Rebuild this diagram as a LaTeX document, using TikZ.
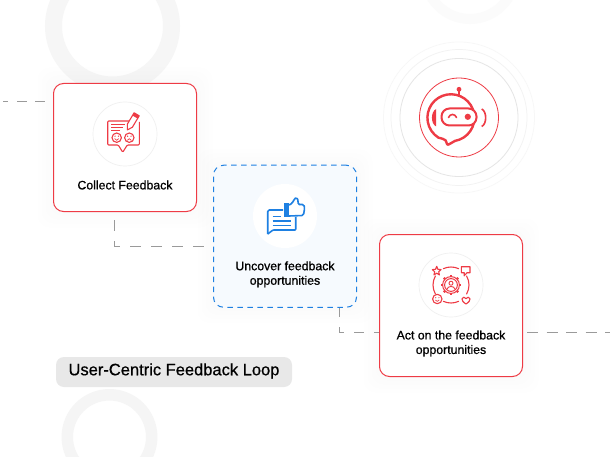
\documentclass[tikz,border=0pt]{standalone}
\usepackage{fontspec}
\setmainfont{Liberation Sans}[FakeBold=0.7]
\usetikzlibrary{calc}
\definecolor{cred}{HTML}{EE3B45}
\definecolor{cblue}{HTML}{1E80E2}
\definecolor{cdash}{HTML}{9A9A9A}
\tikzset{
  x=1pt,y=1pt,
  cardbox/.style={rectangle,rounded corners=10pt,minimum width=143pt,minimum height=#1,inner sep=0pt,line width=1pt},
  redcard/.style={cardbox=128pt,draw=cred,fill=white},
  bluecard/.style={cardbox=142pt,draw=cblue,fill=cblue!4,dash pattern=on 5.5pt off 4.5pt},
  iconring/.style={circle,minimum size=64pt,inner sep=0pt,fill=white},
  label/.style={font=\fontsize{12.3}{14.5}\selectfont,align=center,text=black,inner sep=0pt},
  conn/.style={draw=cdash,line width=1pt},
  ri/.style={draw=cred,line width=1.1pt,line join=round},
  bi/.style={draw=cblue,line width=1.6pt,line join=round},
}
\begin{document}
\begin{tikzpicture}[yscale=-1]
\useasboundingbox (0,0) rectangle (610,457);
\fill[white] (0,0) rectangle (610,457);
% background rings
\begin{scope}
\clip (0,0) rectangle (610,457);
\draw[black!3.5,line width=17pt] (112.5,26) circle[radius=59];
\foreach \y in {0,6,...,90}{\fill[white,opacity=.03] (40,\y) rectangle (185,100);}
\draw[black!4,line width=11.5pt] (109.5,437) circle[radius=42.2];
\foreach \y in {395,400,...,455}{\fill[white,opacity=.09] (55,\y) rectangle (165,457);}
\draw[black!1.6,line width=10pt] (470,-26) circle[radius=45];
\foreach \x in {485,480,...,420}{\fill[white,opacity=.12] (415,0) rectangle (\x,30);}
\end{scope}
% soft glow
\foreach \g in {4,8,12,16}{
  \fill[black,opacity=.004,rounded corners=12pt] (53.5-\g,83.5-\g) rectangle (196.5+\g,211.5+\g);
  \fill[black,opacity=.004,rounded corners=12pt] (213.5-\g,165.5-\g) rectangle (356.5+\g,307+\g);
  \fill[black,opacity=.004,rounded corners=12pt] (379.5-\g,234.5-\g) rectangle (522.5+\g,376.5+\g);
}
% connector end points
\coordinate (leftend) at (3,102);
\coordinate (c1in) at (53.5,102);
\coordinate (c1out) at (114,220);
\coordinate (c2in) at (213.5,246);
\coordinate (c2out) at (339.5,307);
\coordinate (c3in) at (379.5,332.5);
\coordinate (c3out) at (527,332.5);
\coordinate (rightend) at (610,332.5);
\draw[conn,dash pattern=on 5pt off 9pt on 10pt off 8pt on 10pt off 100pt] (leftend) -- (c1in);
\draw[conn,dash pattern=on 11pt off 10pt] (c1out) |- (c2in);
\draw[conn,dash pattern=on 10.2pt off 9.8pt] (c2out) |- (c3in);
\draw[conn,dash pattern=on 11pt off 8.5pt] (c3out) -- (rightend);
% cards
\node[redcard] (card1) at (125,147.5) {};
\node[bluecard] (card2) at (285,236.25) {};
\node[redcard,minimum height=142pt] (card3) at (451,305.5) {};
\node[iconring,draw=black!6,line width=.7pt] (ring1) at (125,134) {};
\node[iconring] (ring2) at (285,216) {};
\node[iconring,draw=black!6,line width=.7pt] (ring3) at (451,285) {};
\node[label] (t1) at (125,185) {Collect Feedback};
\node[label] (t2) at (285,274.3) {Uncover feedback\\opportunities};
\node[label] (t3) at (451,343.5) {Act on the feedback\\opportunities};
\node[rectangle,rounded corners=8pt,fill=black!9,minimum width=236pt,minimum height=30pt,inner sep=0pt] (pill) at (174,372) {};
\node[label,font=\fontsize{16.5}{18}\selectfont] (title) at (174,371) {User-Centric Feedback Loop};
% feedback icon
\draw[ri,rounded corners=1pt] (133,121) -- (107.7,121) -- (107.7,145) -- (118.3,145) -- (122.7,152.3) -- (127.3,145) -- (139.3,145) -- (139.3,122);
\foreach \yy/\xx in {124.5/125,127.7/123,130.9/120}{\draw[ri] (111,\yy) -- (\xx,\yy);}
\draw[ri] (116.7,137.7) circle[radius=4.7];
\draw[ri] (129.3,137.7) circle[radius=4.7];
\fill[cred] (115,136.2) circle[radius=.7] (118.4,136.2) circle[radius=.7] (127.6,136.2) circle[radius=.7] (131,136.2) circle[radius=.7];
\draw[cred,line width=.7pt] (114.6,138.6) .. controls (115.6,140.8) and (117.8,140.8) .. (118.8,138.6);
\draw[cred,line width=.7pt] (127.2,140.4) .. controls (128.2,138.2) and (130.4,138.2) .. (131.4,140.4);
\filldraw[ri,fill=white] (127.3,130) -- (127.3,124.2) -- (134.1,112.8) -- (136.6,114.3) -- (139.2,115.8) -- (132.4,127.2) -- cycle;
\draw[ri] (133,115.2) -- (138,118.1);
\fill[cred] (134.1,112.8) -- (136.6,114.3) -- (139.2,115.8) -- (138,118.1) -- (133,115.2) -- cycle;
% thumbs-up icon
\draw[bi,rounded corners=1.5pt] (283,210) -- (267.7,210) -- (267.7,234);
\draw[bi,rounded corners=.8pt] (267.7,234) -- (273,230) -- (295.7,230) -- (295.7,217);
\foreach \yy/\xx in {216.7/281,221/291,225.3/291}{\draw[bi,line width=1.2pt] (272.7,\yy) -- (\xx,\yy);}
\fill[cblue] (284.3,202.7) rectangle (289,216.5);
\draw[bi,rounded corners=1.6pt,fill=white] (289,205) -- (292.3,203.3) -- (294.3,199) -- (296.5,197.2) -- (298.5,201) -- (297.7,204.5) -- (304,204.5) -- (304.6,208.5) -- (303.4,215.5) -- (289,216);
% cycle icon
\foreach \a/\b in {-115/-65,-30/30,65/115,150/210}{\draw[ri,line cap=round] ($(451,285)+(\a:18)$) arc[start angle=\a,end angle=\b,radius=18];}
\draw[ri,line width=1pt] (451,285) circle[radius=6.4];
\foreach \a in {0,45,...,315}{\draw[cred,line width=2.2pt] ($(451,285)+(\a:8)$) -- ($(451,285)+(\a:10.2)$);}
\draw[ri,line width=1pt] (451,285) circle[radius=8.4];
\draw[ri,line width=.9pt] (451,283.2) circle[radius=2];
\draw[ri,line width=.9pt] (447,289.3) .. controls (447.5,285.5) and (454.5,285.5) .. (455,289.3);
\draw[ri] (436.7,266.3) -- (437.9,269.3) -- (441.1,269.6) -- (438.7,271.7) -- (439.4,274.9) -- (436.7,273.2) -- (434,274.9) -- (434.7,271.7) -- (432.3,269.6) -- (435.5,269.3) -- cycle;
\draw[ri] (461.3,266.7) -- (470,266.7) -- (470,272.7) -- (467,272.7) -- (464.2,275.8) -- (464.2,272.7) -- (461.3,272.7) -- cycle;
\draw[ri] (437.3,299) circle[radius=4.7];
\fill[cred] (435.7,297.7) circle[radius=.6] (438.9,297.7) circle[radius=.6];
\draw[cred,line width=.7pt] (435.4,300) .. controls (436.2,301.8) and (438.4,301.8) .. (439.2,300);
\draw[ri] (466,304) .. controls (463,302) and (461.8,300.5) .. (462,298.8) .. controls (462.3,296.8) and (465,296.6) .. (466,298.6) .. controls (467,296.6) and (469.7,296.8) .. (470,298.8) .. controls (470.2,300.5) and (469,302) .. (466,304) -- cycle;
% robot circles
\node[circle,draw=black!3,line width=.7pt,minimum size=151pt,inner sep=0pt] (halo3) at (459,117.5) {};
\node[circle,draw=black!5,line width=.7pt,minimum size=136pt,inner sep=0pt] (halo2) at (459,117.5) {};
\node[circle,draw=black!10,line width=.8pt,minimum size=118pt,inner sep=0pt] (halo1) at (459,117.5) {};
\node[circle,draw=cred,line width=.8pt,fill=white,minimum size=79pt,inner sep=0pt] (robotring) at (459,117.5) {};
% robot
\fill[cred] (459,89.3) circle[radius=2.4];
\draw[cred,line width=1.2pt] (459,90) -- (459,95);
\draw[cred,line width=2.4pt,line join=round] (455,140.9) arc[start angle=80,end angle=-238,radius=23.5] .. controls (446.8,139.5) and (446.7,141.5) .. (446.8,143.5) .. controls (447,145) and (448,145) .. (449,144.3) -- cycle;
\fill[cred] (436.2,109) .. controls (430.5,111.5) and (430.5,124) .. (436.2,126.5) -- cycle;
\draw[cred,line width=1.6pt] (481.7,109) .. controls (487,111.5) and (487,124) .. (481.7,126.5);
\draw[cred,line width=2pt,fill=white,rounded corners=8pt] (441.5,108.5) rectangle (476.5,125.5);
\draw[cred,line width=1.6pt,line cap=round] (448.5,117.5) .. controls (450,113.5) and (455,113.5) .. (456.5,117.5);
\fill[cred] (467.8,116.8) circle[radius=3.1];
\end{tikzpicture}
\end{document}
